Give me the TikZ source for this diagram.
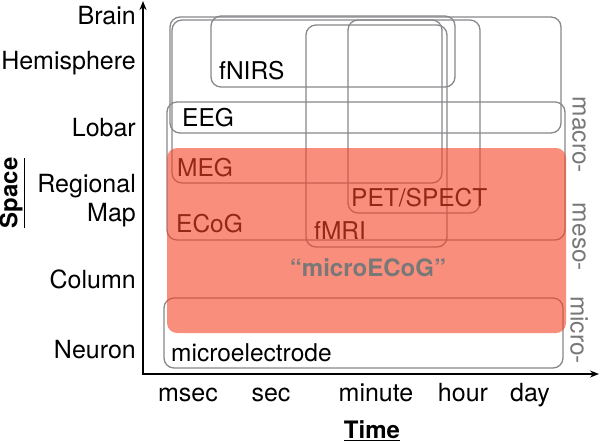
\documentclass[tikz,border=0pt]{standalone}
\usepackage{fontspec}
\setmainfont{TeX Gyre Heros}
\usetikzlibrary{arrows.meta}

\definecolor{boxgray}{RGB}{135,135,140}
\definecolor{scalegray}{RGB}{120,120,120}
\definecolor{ecogred}{RGB}{247,66,36}

\begin{document}
\begin{tikzpicture}[
  x=1pt, y=-1pt,
  >=Stealth,
  method/.style={draw=boxgray, line width=1.3pt, rounded corners=10pt},
  axis/.style={-{Stealth[length=9pt, width=7pt]}, line width=1.8pt},
  tick/.style={font=\fontsize{25}{29}\selectfont, inner sep=0pt},
  mlabel/.style={font=\fontsize{24.5}{26}\selectfont, anchor=base west, inner sep=0pt},
  scale label/.style={font=\fontsize{24.5}{26}\selectfont, text=scalegray, rotate=-90, inner sep=0pt},
  title/.style={font=\fontsize{24}{26}\selectfont\bfseries, inner sep=0pt}
]
\useasboundingbox (0,0) rectangle (600,445);

% ----- METHOD BOXES -----
\draw[method] (170,17) rectangle (561,133);   % EEG
\draw[method] (172,20) rectangle (442,183);   % MEG
\draw[method] (211,16) rectangle (455,87);    % fNIRS
\draw[method] (348,20) rectangle (480,213);   % PET/SPECT
\draw[method] (306,25) rectangle (447,247);   % fMRI
\draw[method] (167,102) rectangle (565,240);  % ECoG
\draw[method] (164,298) rectangle (563,368);  % microelectrode

% ----- METHOD LABELS -----
\node[mlabel] (fnirs) at (219,79) {fNIRS};
\node[mlabel] (eeg) at (182,126) {EEG};
\node[mlabel] (meg) at (177,176) {MEG};
\node[mlabel] (pet) at (351,206) {PET/SPECT};
\node[mlabel] (ecog) at (176,232) {ECoG};
\node[mlabel] (fmri) at (314,239) {fMRI};
\node[mlabel] (micro) at (171,361) {microelectrode};

% ----- MICROECOG RANGE -----
\fill[ecogred, opacity=0.6, rounded corners=10pt] (167,148) rectangle (566,333);
\node[title, text=scalegray] (uecog) at (368,268) {“microECoG”};

% ----- AXES -----
\coordinate (origin) at (143,374);
\coordinate (ytop) at (143,1);
\coordinate (xend) at (599,374);
\draw[axis] (origin) -- (ytop);
\draw[axis] ([xshift=-0.9pt]origin) -- (xend);

% ----- SPACE SCALE -----
\node[tick, anchor=base east] (brain) at (136,24) {Brain};
\node[tick, anchor=base east] (hemi) at (136,69) {Hemisphere};
\node[tick, anchor=base east] (lobar) at (136,136) {Lobar};
\node[tick, anchor=base east] (regional) at (136,192) {Regional};
\node[tick, anchor=base east] (map) at (136,221) {Map};
\node[tick, anchor=base east] (column) at (136,288) {Column};
\node[tick, anchor=base east] (neuron) at (136,358) {Neuron};
\node[title, rotate=90] (space) at (12,193) {\underline{Space}};

% ----- TIME SCALE -----
\node[tick, anchor=base] (msec) at (188,401) {msec};
\node[tick, anchor=base] (sec) at (271,401) {sec};
\node[tick, anchor=base] (minute) at (376,401) {minute};
\node[tick, anchor=base] (hour) at (463,401) {hour};
\node[tick, anchor=base] (day) at (530,401) {day};
\node[title] (time) at (372,431) {\underline{Time}};

% ----- SIZE CLASSES -----
\node[scale label] (macro) at (579,135) {macro-};
\node[scale label] (meso) at (579,237) {meso-};
\node[scale label] (microc) at (579,330) {micro-};

\end{tikzpicture}
\end{document}
